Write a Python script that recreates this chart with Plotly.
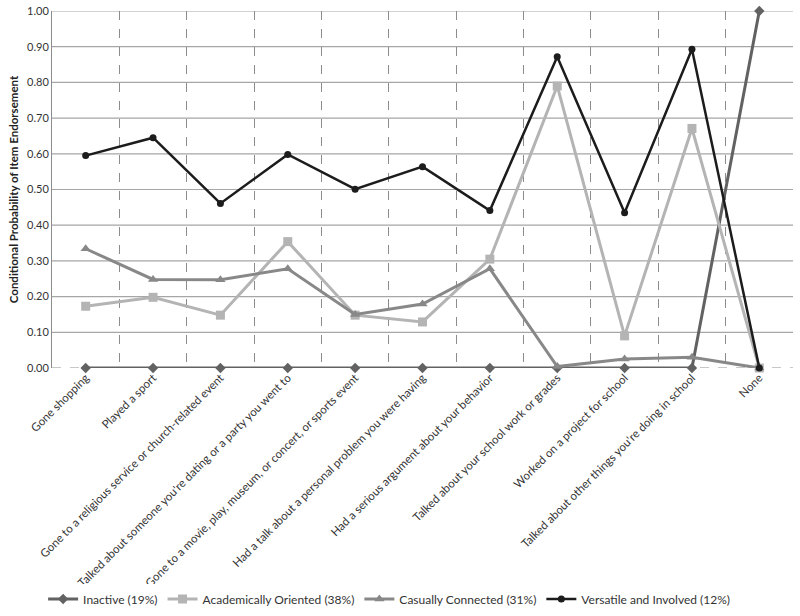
import plotly.graph_objects as go

categories = [
    "Gone shopping",
    "Played a sport",
    "Gone to a religious service or church-related event",
    "Talked about someone you're dating or a party you went to",
    "Gone to a movie, play, museum, or concert, or sports event",
    "Had a talk about a personal problem you were having",
    "Had a serious argument about your behavior",
    "Talked about your school work or grades",
    "Worked on a project for school",
    "Talked about other things you're doing in school",
    "None",
]

inactive = [0, 0, 0, 0, 0, 0, 0, 0, 0, 0, 1.00]
academic = [0.173, 0.198, 0.148, 0.354, 0.148, 0.129, 0.305, 0.790, 0.090, 0.671, 0.0]
casual = [0.334, 0.248, 0.247, 0.278, 0.150, 0.179, 0.278, 0.004, 0.025, 0.030, 0.0]
versatile = [0.595, 0.645, 0.461, 0.598, 0.501, 0.564, 0.441, 0.872, 0.435, 0.893, 0.0]

y_ticks = [i / 10 for i in range(11)]

FONT = "Lato"

fig = go.Figure()

series = [
    ("Inactive (19%)", inactive, "#626262", "diamond", 8, 3),
    ("Academically Oriented (38%)", academic, "#b4b4b4", "square", 9, 3),
    ("Casually Connected (31%)", casual, "#888888", "triangle-up", 9, 3),
    ("Versatile and Involved (12%)", versatile, "#1c1c1c", "circle", 7, 2.5),
]
for name, vals, color, symbol, msize, lw in series:
    fig.add_trace(
        go.Scatter(
            x=categories,
            y=vals,
            name=name,
            mode="lines+markers",
            line=dict(color=color, width=lw),
            marker=dict(symbol=symbol, size=msize, color=color),
            cliponaxis=False,
        )
    )

# solid horizontal grid, dashed baseline
for t in y_ticks[1:]:
    fig.add_hline(y=t, line=dict(color="#a6a6a6", width=1.2), layer="below")
fig.add_hline(y=0, line=dict(color="#909090", width=1, dash="dash"), layer="below")

fig.update_layout(
    width=800,
    height=616,
    margin=dict(l=52, r=7, t=11, b=248, autoexpand=False),
    paper_bgcolor="white",
    plot_bgcolor="white",
    font=dict(family=FONT, size=11, color="#333333"),
    showlegend=True,
    legend=dict(
        orientation="h",
        x=-0.012,
        xanchor="left",
        y=-0.647,
        yanchor="middle",
        font=dict(family=FONT, size=12, color="#333333"),
        itemwidth=30,
        traceorder="normal",
    ),
    xaxis=dict(
        type="category",
        range=[-0.5, 10.5],
        tickangle=-45,
        tickson="boundaries",
        automargin=False,
        showgrid=True,
        gridcolor="#8c8c8c",
        griddash="dash",
        gridwidth=1,
        ticks="",
        showline=False,
        tickfont=dict(family=FONT, size=11.5, color="#333333"),
    ),
    yaxis=dict(
        range=[0, 1],
        tickvals=y_ticks,
        tickformat=".2f",
        automargin=False,
        showgrid=False,
        zeroline=False,
        showline=True,
        linecolor="#8c8c8c",
        linewidth=1,
        ticks="",
        tickfont=dict(family=FONT, size=11, color="#333333"),
        title=dict(
            text="<b>Conditional Probability of Item Endorsement</b>",
            font=dict(family=FONT, size=11.5, color="#222222"),
            standoff=6,
        ),
    ),
)

# drop the browser's default 8px body margin so the figure sits at the page origin
fig.write_html(
    "out.html",
    config={"displayModeBar": False},
    post_script="document.body.style.margin='0px';",
)
